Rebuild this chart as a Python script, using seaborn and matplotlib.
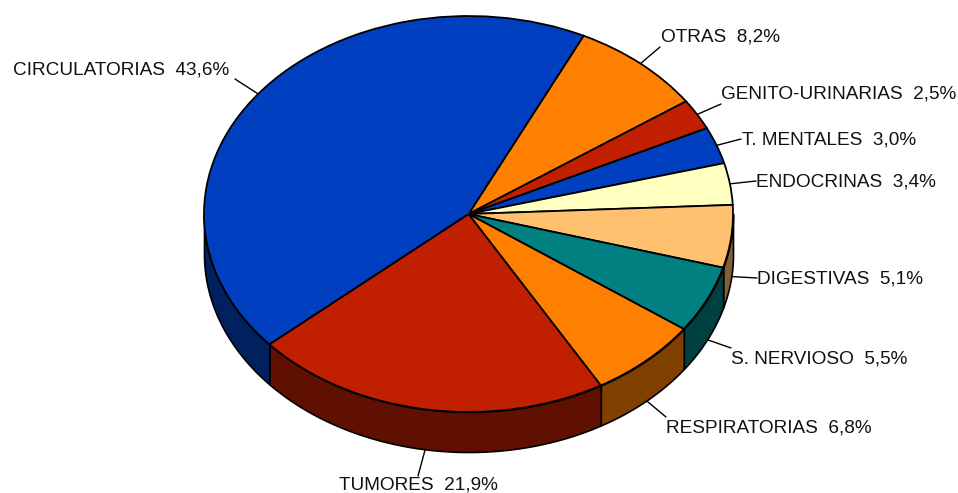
import numpy as np
import matplotlib
matplotlib.use("Agg")
import matplotlib.pyplot as plt
import seaborn as sns

names = ['OTRAS', 'GENITO-URINARIAS', 'T. MENTALES', 'ENDOCRINAS', 'DIGESTIVAS',
         'S. NERVIOSO', 'RESPIRATORIAS', 'TUMORES', 'CIRCULATORIAS']
values = [8.2, 2.5, 3.0, 3.4, 5.1, 5.5, 6.8, 21.9, 43.6]
top_colors = ['#ff8000', '#c02000', '#0040c0', '#ffffc0', '#ffc070',
              '#008080', '#ff8000', '#c02000', '#0040c0']
side_colors = ['#804000', '#601000', '#002060', '#808060', '#806038',
               '#004040', '#804000', '#601000', '#002060']

# where the label text starts and where the leader line leaves it (pixels)
label_xy = [(661, 37), (721, 94), (742, 140), (756, 182), (757, 279),
            (731, 359), (666, 428), (339, 485), (13, 70)]
leader_xy = [(660, 47), (721, 104), (741, 139), (756, 181), (757, 278),
             (731, 348), (666, 417), (418, 476), (235, 79)]

W, H = 958, 493
CX, CY, RX, RY = 468.5, 214, 264.5, 198
DEPTH = 40 / RY
START = 64.2


def to_data(px, py):
    return (px - CX) / RX, (CY - py) / RY


sns.set_theme(style="white")
plt.rcParams['font.family'] = ['Liberation Sans', 'DejaVu Sans']

fig = plt.figure(figsize=(W / 100, H / 100), dpi=100)
ax = fig.add_axes([0, 0, 1, 1])

# pie top, squashed into an ellipse by the axes limits below
wedges, _ = ax.pie(values, colors=sns.color_palette(top_colors), startangle=START,
                   counterclock=False, radius=1,
                   wedgeprops=dict(edgecolor='black', linewidth=1.3, zorder=3))

# side wall: only the part of each slice facing the viewer
ends = START - np.cumsum(values) * 3.6
starts = np.r_[START, ends[:-1]]
for a, b, c in zip(starts, ends, side_colors):
    a2, b2 = min(a, 0), max(b, -180)
    if a2 <= b2:
        continue
    th = np.radians(np.linspace(a2, b2, 60))
    ax.fill_between(np.cos(th), np.sin(th), np.sin(th) - DEPTH, facecolor=c,
                    edgecolor='black', linewidth=1.2, zorder=2)

# leader lines and labels
mids = np.radians((starts + ends) / 2)
for n, v, m, lab, lead in zip(names, values, mids, label_xy, leader_xy):
    x0, y0 = np.cos(m), np.sin(m)
    if y0 < 0:
        y0 -= DEPTH
    x1, y1 = to_data(*lead)
    ax.plot([x0, x1], [y0, y1], color='black', lw=1.0, zorder=1)
    tx, ty = to_data(*lab)
    ax.text(tx, ty, f"{n}  {str(v).replace('.', ',')}%", fontsize=13.65, color='#111111',
            ha='left', va='center', zorder=4)

ax.set_aspect('auto')
ax.set_xlim(to_data(0, 0)[0], to_data(W, 0)[0])
ax.set_ylim(to_data(0, H)[1], to_data(0, 0)[1])
ax.axis('off')

fig.savefig('out.png', dpi=100, facecolor='white')
